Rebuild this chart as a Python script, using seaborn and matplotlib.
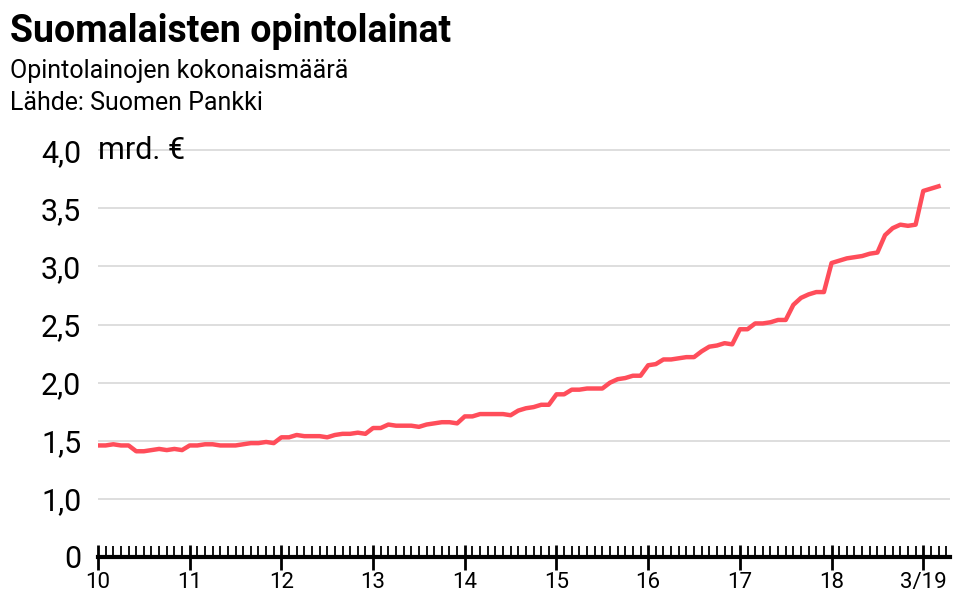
import matplotlib
matplotlib.use("Agg")
import matplotlib.pyplot as plt
import seaborn as sns
import numpy as np
import pandas as pd

values = [
    1.46,1.46,1.47,1.46,1.46,1.41,1.41,1.42,1.43,1.42,1.43,1.42,
    1.46,1.46,1.47,1.47,1.46,1.46,1.46,1.47,1.48,1.48,1.49,1.48,
    1.53,1.53,1.55,1.54,1.54,1.54,1.53,1.55,1.56,1.56,1.57,1.56,
    1.61,1.61,1.64,1.63,1.63,1.63,1.62,1.64,1.65,1.66,1.66,1.65,
    1.71,1.71,1.73,1.73,1.73,1.73,1.72,1.76,1.78,1.79,1.81,1.81,
    1.90,1.90,1.94,1.94,1.95,1.95,1.95,2.00,2.03,2.04,2.06,2.06,
    2.15,2.16,2.20,2.20,2.21,2.22,2.22,2.27,2.31,2.32,2.34,2.33,
    2.46,2.46,2.51,2.51,2.52,2.54,2.54,2.67,2.73,2.76,2.78,2.78,
    3.03,3.05,3.07,3.08,3.09,3.11,3.12,3.27,3.33,3.36,3.35,3.36,
    3.65,3.67,3.69,
]
months = [2010 + i / 12 for i in range(len(values))]
year_ticks = list(range(2010, 2020))
year_labels = ["10","11","12","13","14","15","16","17","18","3/19"]
y_ticks = [0.5, 1.0, 1.5, 2.0, 2.5, 3.0, 3.5, 4.0]
y_labels = ["0", "1,0", "1,5", "2,0", "2,5", "3,0", "3,5", "4,0"]

df = pd.DataFrame({"t": months, "v": values})

plt.rcParams["font.family"] = "Roboto"
fig = plt.figure(figsize=(9.59, 5.97), dpi=100)
ax = fig.add_axes([98/959, 1-557/597, (950-98)/959, (557-141)/597])
sns.lineplot(data=df, x="t", y="v", ax=ax, color="#ff4d5a", linewidth=3.2)

ax.set_xlim(2010, 2019 + 3.5/12)
ax.set_ylim(0.5, 4.08)
ax.set_yticks(y_ticks)
ax.set_yticklabels(y_labels, fontsize=22)
ax.set_xticks(year_ticks)
ax.set_xticklabels(year_labels, fontsize=16)
ax.set_xticks([2010 + i/12 for i in range(0, 12*9+4)], minor=True)
ax.set_xlabel("")
ax.set_ylabel("")
for yv in y_ticks[1:]:
    ax.axhline(yv, color="#d8d8d8", linewidth=1.2, zorder=0)
for s in ["top", "right", "left"]:
    ax.spines[s].set_visible(False)
ax.spines["bottom"].set_linewidth(3)
ax.tick_params(axis="y", length=0, pad=12)
ax.tick_params(axis="x", which="major", direction="inout", length=18, width=2, pad=2)
ax.tick_params(axis="x", which="minor", direction="in", length=8, width=1.3)
ax.text(0.0, 4.0, "mrd. €", fontsize=22, va="center", ha="left",
        transform=ax.get_yaxis_transform())

fig.text(10/959, 1-32/597, "Suomalaisten opintolainat", fontsize=27,
         fontweight="bold", va="center", ha="left")
fig.text(10/959, 1-71/597, "Opintolainojen kokonaismäärä", fontsize=18, va="center", ha="left")
fig.text(10/959, 1-103/597, "Lähde: Suomen Pankki", fontsize=18, va="center", ha="left")

fig.savefig("out.png", dpi=100)
